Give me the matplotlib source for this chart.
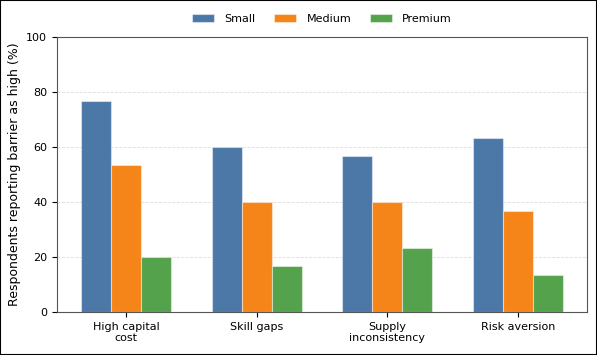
import matplotlib
matplotlib.use("Agg")
import matplotlib.pyplot as plt
import numpy as np

categories = ["High capital\ncost", "Skill gaps", "Supply\ninconsistency", "Risk aversion"]
series_names = ["Small", "Medium", "Premium"]
small = [76.7, 60.0, 56.7, 63.3]
medium = [53.3, 40.0, 40.0, 36.7]
premium = [20.0, 16.7, 23.3, 13.3]
colors = ["#4c78a8", "#f58518", "#54a24b"]

fig = plt.figure(figsize=(5.97, 3.55), dpi=100)
ax = fig.add_axes([57/597, 1-312/355, 530/597, 275/355])
x = np.arange(len(categories))
w = 0.23
for i, (vals, name) in enumerate(zip([small, medium, premium], series_names)):
    ax.bar(x + (i - 1) * w, vals, w, label=name, color=colors[i],
           edgecolor=(1, 1, 1, 0.45), linewidth=0.8, zorder=3)
ax.set_ylim(0, 100)
ax.set_xticks(x)
ax.set_xticklabels(categories, fontsize=8)
ax.tick_params(axis="y", labelsize=8)
ax.set_ylabel("Respondents reporting barrier as high (%)", fontsize=9)
ax.yaxis.grid(True, linestyle="--", color="#dddddd", linewidth=0.6, zorder=0)
for s in ax.spines.values():
    s.set_color("#555555")
ax.legend(loc="lower center", bbox_to_anchor=(0.5, 1.012), ncol=3, frameon=False,
          fontsize=8, columnspacing=1.7, handlelength=2.0, handletextpad=0.9)
fig.patches.append(plt.Rectangle((0, 0), 1, 1, transform=fig.transFigure,
                                 fill=False, edgecolor="black", linewidth=1.5))
fig.savefig("out.png", dpi=100)
